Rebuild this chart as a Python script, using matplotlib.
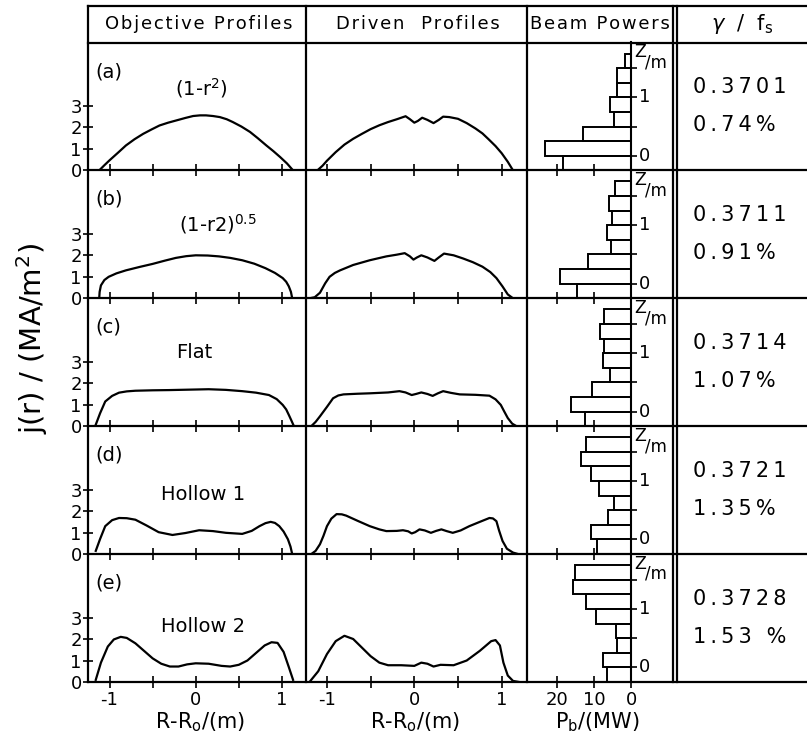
import matplotlib.pyplot as plt
from matplotlib.lines import Line2D

W, H = 807, 742

row_tags = ['(a)', '(b)', '(c)', '(d)', '(e)']
profile_names = ['(1-r$^2$)', '(1-r2)$^{0.5}$', 'Flat', 'Hollow 1', 'Hollow 2']
gamma_vals = ['0.3701', '0.3711', '0.3714', '0.3721', '0.3728']
fs_vals = ['0.74%', '0.91%', '1.07%', '1.35%', '1.53 %']
headers = ['Objective Profiles', 'Driven  Profiles', 'Beam Powers']

# objective current profiles: R-Ro (m) and j (MA/m^2)
obj_a_r = [-1.12, -1.06, -1.0, -0.9, -0.81, -0.71, -0.61, -0.51, -0.42, -0.32, -0.22, -0.12, -0.03,
           0.05, 0.12, 0.2, 0.28, 0.36, 0.43, 0.53, 0.63, 0.72, 0.82, 0.9, 0.98, 1.06, 1.13]
obj_a_j = [0.0, 0.24, 0.47, 0.83, 1.16, 1.45, 1.7, 1.91, 2.09, 2.22, 2.33, 2.44, 2.53,
           2.56, 2.56, 2.53, 2.48, 2.38, 2.25, 2.04, 1.79, 1.5, 1.16, 0.9, 0.62, 0.32, 0.0]
obj_b_r = [-1.12, -1.115, -1.1, -1.06, -1.01, -0.92, -0.81, -0.65, -0.5, -0.36, -0.23, -0.11, 0.0,
           0.14, 0.27, 0.4, 0.54, 0.68, 0.81, 0.92, 1.01, 1.05, 1.08, 1.105, 1.12]
obj_b_j = [0.0, 0.3, 0.6, 0.85, 1.0, 1.16, 1.3, 1.46, 1.6, 1.75, 1.88, 1.96, 2.0,
           1.99, 1.95, 1.88, 1.77, 1.61, 1.4, 1.18, 0.94, 0.77, 0.56, 0.3, 0.0]
obj_c_r = [-1.16, -1.11, -1.05, -0.97, -0.89, -0.8, -0.7, -0.5, -0.31, -0.08, 0.15, 0.35, 0.54,
           0.7, 0.85, 0.94, 1.01, 1.05, 1.08, 1.11, 1.14]
obj_c_j = [0.07, 0.6, 1.15, 1.41, 1.56, 1.62, 1.65, 1.67, 1.68, 1.7, 1.72, 1.69, 1.63,
           1.56, 1.45, 1.26, 0.99, 0.78, 0.53, 0.27, 0.0]
obj_d_r = [-1.16, -1.11, -1.05, -0.97, -0.89, -0.8, -0.7, -0.57, -0.43, -0.27, -0.12, 0.04, 0.2,
           0.35, 0.54, 0.65, 0.74, 0.81, 0.87, 0.92, 0.97, 1.02, 1.07, 1.1, 1.12]
obj_d_j = [0.15, 0.7, 1.3, 1.58, 1.68, 1.67, 1.6, 1.33, 1.02, 0.89, 0.98, 1.11, 1.07,
           0.99, 0.94, 1.08, 1.3, 1.44, 1.5, 1.45, 1.3, 1.05, 0.69, 0.35, 0.0]
obj_e_r = [-1.16, -1.1, -1.02, -0.95, -0.87, -0.8, -0.7, -0.6, -0.5, -0.4, -0.3, -0.2, -0.1,
           0.0, 0.15, 0.3, 0.4, 0.5, 0.6, 0.7, 0.8, 0.88, 0.95, 1.02, 1.08, 1.13]
obj_e_j = [0.1, 0.9, 1.65, 1.98, 2.1, 2.05, 1.8, 1.45, 1.1, 0.85, 0.72, 0.72, 0.82,
           0.87, 0.85, 0.75, 0.72, 0.8, 1.0, 1.35, 1.7, 1.85, 1.82, 1.4, 0.7, 0.1]

# driven current profiles
drv_a_r = [-1.11, -1.05, -1.0, -0.9, -0.8, -0.7, -0.6, -0.5, -0.4, -0.3, -0.2, -0.15, -0.1, -0.05,
           0.0, 0.04, 0.09, 0.15, 0.22, 0.28, 0.33, 0.4, 0.5, 0.6, 0.7, 0.78, 0.85, 0.93, 1.0, 1.07, 1.13]
drv_a_j = [0.0, 0.22, 0.45, 0.85, 1.2, 1.47, 1.7, 1.92, 2.1, 2.25, 2.38, 2.45, 2.52, 2.38,
           2.22, 2.3, 2.45, 2.35, 2.2, 2.35, 2.5, 2.48, 2.4, 2.2, 1.95, 1.72, 1.45, 1.13, 0.8, 0.4, 0.0]
drv_b_r = [-1.2, -1.14, -1.08, -1.02, -0.97, -0.91, -0.85, -0.7, -0.51, -0.32, -0.2, -0.11, -0.05,
           -0.01, 0.03, 0.08, 0.15, 0.23, 0.28, 0.34, 0.45, 0.56, 0.67, 0.78, 0.87, 0.94, 1.01, 1.07, 1.13]
drv_b_j = [0.0, 0.05, 0.26, 0.7, 1.0, 1.18, 1.3, 1.55, 1.77, 1.95, 2.03, 2.1, 1.95,
           1.8, 1.9, 2.0, 1.9, 1.74, 1.9, 2.08, 2.0, 1.85, 1.68, 1.47, 1.22, 0.94, 0.55, 0.18, 0.0]
drv_c_r = [-1.18, -1.13, -1.08, -1.0, -0.93, -0.87, -0.81, -0.65, -0.51, -0.3, -0.17, -0.1, -0.03,
           0.02, 0.08, 0.15, 0.21, 0.27, 0.33, 0.42, 0.52, 0.7, 0.86, 0.93, 0.99, 1.03, 1.07, 1.12, 1.17]
drv_c_j = [0.0, 0.2, 0.46, 0.9, 1.3, 1.43, 1.48, 1.51, 1.53, 1.57, 1.63, 1.57, 1.45,
           1.5, 1.57, 1.5, 1.41, 1.53, 1.63, 1.55, 1.48, 1.46, 1.42, 1.25, 0.99, 0.68, 0.38, 0.12, 0.0]
drv_d_r = [-1.18, -1.13, -1.08, -1.04, -1.0, -0.95, -0.89, -0.83, -0.78, -0.65, -0.51, -0.4, -0.32,
           -0.2, -0.13, -0.07, -0.03, 0.01, 0.06, 0.12, 0.19, 0.25, 0.31, 0.37, 0.44, 0.53, 0.63, 0.75,
           0.86, 0.9, 0.94, 0.97, 1.01, 1.06, 1.13, 1.19]
drv_d_j = [0.0, 0.15, 0.46, 0.85, 1.3, 1.65, 1.86, 1.85, 1.79, 1.55, 1.3, 1.15, 1.07,
           1.08, 1.11, 1.06, 0.96, 1.02, 1.15, 1.1, 0.99, 1.08, 1.15, 1.07, 0.99, 1.1, 1.3, 1.5,
           1.68, 1.66, 1.53, 1.1, 0.61, 0.25, 0.07, 0.0]
drv_e_r = [-1.2, -1.1, -1.0, -0.9, -0.8, -0.7, -0.6, -0.5, -0.4, -0.3, -0.15, 0.0, 0.08, 0.15,
           0.22, 0.3, 0.45, 0.6, 0.75, 0.88, 0.93, 0.98, 1.02, 1.07, 1.13, 1.2]
drv_e_j = [0.0, 0.5, 1.3, 1.9, 2.15, 2.0, 1.6, 1.2, 0.9, 0.78, 0.78, 0.75, 0.9, 0.85,
           0.72, 0.8, 0.78, 1.0, 1.45, 1.9, 1.95, 1.7, 0.9, 0.3, 0.05, 0.0]

# beam powers (MW) per 0.25 m slice in Z, bottom slice first
z_bins = [-0.125, 0.125, 0.375, 0.625, 0.875, 1.125, 1.375, 1.625]
pb_a = [18.5, 23.4, 13.2, 4.8, 5.8, 3.9, 3.9, 1.8]
pb_b = [14.6, 19.4, 11.7, 5.6, 6.5, 5.2, 6.1, 4.5]
pb_c = [12.6, 16.3, 10.6, 5.7, 7.8, 7.3, 8.6, 7.3]
pb_d = [9.3, 10.8, 6.3, 4.7, 8.7, 10.8, 13.7, 12.4]
pb_e = [6.6, 7.6, 3.8, 4.1, 9.6, 12.2, 15.9, 15.3]

objective = [(obj_a_r, obj_a_j), (obj_b_r, obj_b_j), (obj_c_r, obj_c_j), (obj_d_r, obj_d_j), (obj_e_r, obj_e_j)]
driven = [(drv_a_r, drv_a_j), (drv_b_r, drv_b_j), (drv_c_r, drv_c_j), (drv_d_r, drv_d_j), (drv_e_r, drv_e_j)]
beams = [pb_a, pb_b, pb_c, pb_d, pb_e]


def fx(px):
    return px / W


def fy(py):
    return 1 - py / H


def hline(fig, y, x0, x1, lw=1.6):
    fig.add_artist(Line2D([fx(x0), fx(x1)], [fy(y), fy(y)], transform=fig.transFigure, color='k', lw=lw))


def vline(fig, x, y0, y1, lw=1.6):
    fig.add_artist(Line2D([fx(x), fx(x)], [fy(y0), fy(y1)], transform=fig.transFigure, color='k', lw=lw))


def spaced(s, gap='\u2009'):
    return gap.join(s)


fig = plt.figure(figsize=(W / 100, H / 100), dpi=100)

cols = [88, 306, 527, 673]
top, head_bot = 6, 42.5
row_h = 127.9
name_xy = [(201, 88), (218, 224), (194, 353), (203, 495), (203, 627)]

for i in range(5):
    y_top = head_bot + i * row_h
    y_bot = y_top + row_h
    last = i == 4

    # objective profile
    ax = fig.add_axes([fx(cols[0]), fy(y_bot), fx(cols[1]) - fx(cols[0]), row_h / H])
    ax.plot(*objective[i], color='k', lw=1.6)
    ax.set_xlim(-1.25, 1.28)
    ax.set_ylim(0, 5.95)
    ax.set_yticks([0, 1, 2, 3])
    ax.tick_params(axis='y', direction='inout', length=7, width=1.2, labelsize=13, pad=1)

    # driven profile
    ax2 = fig.add_axes([fx(cols[1]), fy(y_bot), fx(cols[2]) - fx(cols[1]), row_h / H])
    ax2.plot(*driven[i], color='k', lw=1.6)
    ax2.set_xlim(-1.24, 1.29)
    ax2.set_ylim(0, 5.95)
    ax2.set_yticks([])

    for a in (ax, ax2):
        a.set_xticks([-1, -0.5, 0, 0.5, 1])
        a.set_xticklabels(['-1', '', '0', '', '1'] if last else [])
        a.tick_params(axis='x', direction='inout', length=9, width=1.2, labelsize=13, pad=2)
        for s in a.spines.values():
            s.set_visible(False)
        a.patch.set_alpha(0)

    ax.text(-1.17, 4.6, row_tags[i], fontsize=14, va='center')
    fig.text(fx(name_xy[i][0]), fy(name_xy[i][1]), profile_names[i], fontsize=14, ha='center', va='center')

    # beam powers against height Z
    ax3 = fig.add_axes([fx(cols[2]), fy(y_bot), fx(cols[3]) - fx(cols[2]), row_h / H])
    ax3.barh(z_bins, beams[i], height=0.25, fill=False, edgecolor='k', lw=1.4)
    ax3.set_xlim(28.2, -11.2)
    ax3.set_ylim(-0.25, 1.94)
    ax3.set_xticks([20, 10, 0])
    ax3.set_xticklabels(['20', '10', '0'] if last else [])
    ax3.tick_params(axis='x', direction='inout', length=9, width=1.2, labelsize=13, pad=2)
    for s in ax3.spines.values():
        s.set_visible(False)
    ax3.spines['left'].set_visible(True)
    ax3.spines['left'].set_position(('data', 0))
    ax3.spines['left'].set_linewidth(1.5)
    ax3.set_yticks([0, 0.5, 1, 1.5])
    ax3.set_yticklabels([])
    ax3.tick_params(axis='y', direction='in', length=4, width=1.2)
    ax3.text(-2.0, 0, '0', fontsize=13, ha='left', va='center')
    ax3.text(-2.0, 1, '1', fontsize=13, ha='left', va='center')
    ax3.text(-0.8, 1.77, 'Z', fontsize=12.5, ha='left', va='center')
    ax3.text(-3.6, 1.6, '/m', fontsize=12, ha='left', va='center')
    ax3.patch.set_alpha(0)

    # gamma and f_s
    fig.text(fx(693), fy(y_top + 44.5), spaced(gamma_vals[i]), fontsize=15, ha='left', va='center')
    fig.text(fx(693), fy(y_top + 82.5), spaced(fs_vals[i]), fontsize=15, ha='left', va='center')

    hline(fig, y_bot, cols[0], W)

# frame
hline(fig, top, cols[0], W)
hline(fig, head_bot, cols[0], W)
for x in cols + [677]:
    vline(fig, x, top, head_bot + 5 * row_h)

for x, t in zip([199, 418, 600], headers):
    fig.text(fx(x), fy(24), spaced(t, '\u200a'), fontsize=13, ha='center', va='center')
fig.text(fx(742), fy(24), r'$\gamma$  /  f$_{\rm s}$', fontsize=15, ha='center', va='center')

fig.text(fx(32), fy(338), 'j(r) / (MA/m$^2$)', fontsize=21, rotation=90, ha='center', va='center')
fig.text(fx(200), fy(722), r'R-R$_{\rm o}$/(m)', fontsize=15, ha='center', va='center')
fig.text(fx(415), fy(722), r'R-R$_{\rm o}$/(m)', fontsize=15, ha='center', va='center')
fig.text(fx(597), fy(722), r'P$_{\rm b}$/(MW)', fontsize=15, ha='center', va='center')

fig.savefig('out.png', dpi=100)
